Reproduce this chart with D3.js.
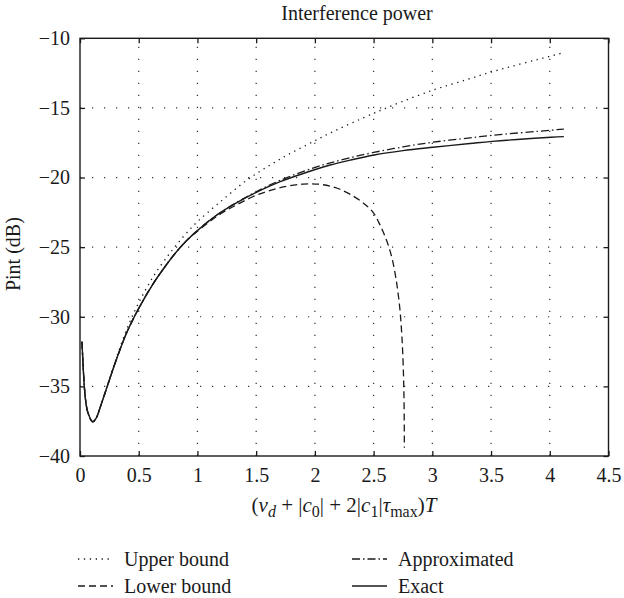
<!DOCTYPE html>
<html>
<head>
<meta charset="utf-8">
<script src="https://cdn.jsdelivr.net/npm/d3@7"></script>
<style>
	body { margin: 0; background: #fff; }
	svg text { font-family: "Liberation Serif", "DejaVu Serif", serif; fill: #1a1a1a; }
</style>
</head>
<body>
<div id="chart"></div>
<script>
const xTicks = [0, 0.5, 1, 1.5, 2, 2.5, 3, 3.5, 4, 4.5];
const yTicks = [-10, -15, -20, -25, -30, -35, -40];

const exactX = [0.017, 0.045, 0.068, 0.108, 0.14, 0.17, 0.2, 0.25, 0.3, 0.4, 0.5, 0.625, 0.75, 0.82, 0.9, 1.0, 1.18, 1.336, 1.506, 1.705, 1.99, 2.13, 2.3, 2.505, 2.75, 3.006, 3.32, 3.51, 4.01, 4.12];
const exactY = [-31.8, -35.8, -36.9, -37.55, -37.25, -36.55, -35.8, -34.55, -33.3, -31.1, -29.4, -27.6, -26.1, -25.35, -24.6, -23.8, -22.6, -21.8, -21.05, -20.3, -19.46, -19.1, -18.75, -18.38, -18.07, -17.83, -17.56, -17.4, -17.11, -17.06];

const upperX = [0.017, 0.045, 0.068, 0.108, 0.14, 0.17, 0.2, 0.25, 0.3, 0.4, 0.5, 0.625, 0.75, 0.82, 0.9, 1.0, 1.18, 1.42, 1.705, 1.99, 2.13, 2.5, 2.67, 3.01, 3.3, 3.51, 4.01, 4.12];
const upperY = [-31.8, -35.8, -36.9, -37.55, -37.25, -36.55, -35.8, -34.5, -33.2, -30.85, -29.0, -27.1, -25.6, -24.85, -24.05, -23.17, -21.85, -20.2, -18.67, -17.4, -16.8, -15.39, -14.79, -13.71, -12.95, -12.4, -11.27, -11.03];

const lowerX = [0.017, 0.045, 0.068, 0.108, 0.14, 0.17, 0.2, 0.25, 0.3, 0.4, 0.5, 0.625, 0.75, 0.82, 0.9, 1.0, 1.18, 1.336, 1.506, 1.705, 1.9, 2.045, 2.19, 2.33, 2.43, 2.5, 2.557, 2.614, 2.657, 2.693, 2.722, 2.74, 2.752, 2.759, 2.762];
const lowerY = [-31.8, -35.8, -36.9, -37.55, -37.25, -36.55, -35.8, -34.55, -33.3, -31.1, -29.4, -27.6, -26.1, -25.35, -24.6, -23.85, -22.7, -21.95, -21.25, -20.73, -20.47, -20.49, -20.77, -21.35, -21.95, -22.55, -23.45, -24.6, -25.8, -27.4, -29.3, -31.3, -33.5, -36.0, -39.4];

const approxX = [0.017, 0.045, 0.068, 0.108, 0.14, 0.17, 0.2, 0.25, 0.3, 0.4, 0.5, 0.625, 0.75, 0.82, 0.9, 1.0, 1.18, 1.336, 1.506, 1.705, 1.99, 2.13, 2.3, 2.5, 2.75, 3.0, 3.32, 3.51, 4.01, 4.12];
const approxY = [-31.8, -35.8, -36.9, -37.55, -37.25, -36.55, -35.8, -34.55, -33.3, -31.1, -29.4, -27.6, -26.1, -25.35, -24.6, -23.8, -22.6, -21.78, -21.0, -20.2, -19.3, -18.95, -18.58, -18.2, -17.8, -17.47, -17.15, -16.97, -16.6, -16.52];

const seriesNames = ['Upper bound', 'Lower bound', 'Approximated', 'Exact'];

const width = 624, height = 598;
const margin = {top: 38.3, right: 15.5, bottom: 142, left: 80};
const plotW = width - margin.left - margin.right;
const plotH = height - margin.top - margin.bottom;
const ink = '#1a1a1a';

const svg = d3.select('#chart').append('svg').attr('width', width).attr('height', height);
const g = svg.append('g').attr('transform', `translate(${margin.left},${margin.top})`);

const x = d3.scaleLinear().domain([0, 4.5]).range([0, plotW]);
const y = d3.scaleLinear().domain([-40, -10]).range([plotH, 0]);

// dotted grid
g.append('g').selectAll('line')
	.data(xTicks.slice(1, -1))
	.enter().append('line')
	.attr('x1', d => x(d)).attr('x2', d => x(d))
	.attr('y1', plotH).attr('y2', 0)
	.attr('stroke', '#333').attr('stroke-width', 1.2).attr('stroke-dasharray', '1.2,10.8');
g.append('g').selectAll('line')
	.data(yTicks.slice(1, -1))
	.enter().append('line')
	.attr('x1', 0).attr('x2', plotW)
	.attr('y1', d => y(d)).attr('y2', d => y(d))
	.attr('stroke', '#333').attr('stroke-width', 1.2).attr('stroke-dasharray', '1.2,10.8');

// axes with inward ticks
const fmt = d3.format('');
const styleAxis = sel => {
	sel.select('.domain').remove();
	sel.selectAll('line').attr('stroke', ink).attr('stroke-width', 1.3);
	sel.selectAll('text').style('font-size', '20px').attr('fill', ink);
};
g.append('g').attr('transform', `translate(0,${plotH})`)
	.call(d3.axisBottom(x).tickValues(xTicks).tickFormat(fmt).tickSize(-5).tickSizeOuter(0).tickPadding(12))
	.call(styleAxis);
g.append('g')
	.call(d3.axisLeft(y).tickValues(yTicks).tickFormat(fmt).tickSize(-5).tickSizeOuter(0).tickPadding(10))
	.call(styleAxis);
g.append('g')
	.call(d3.axisTop(x).tickValues(xTicks).tickFormat('').tickSize(-5).tickSizeOuter(0))
	.call(styleAxis);
g.append('g').attr('transform', `translate(${plotW},0)`)
	.call(d3.axisRight(y).tickValues(yTicks).tickFormat('').tickSize(-5).tickSizeOuter(0))
	.call(styleAxis);

g.append('rect')
	.attr('width', plotW).attr('height', plotH)
	.attr('fill', 'none').attr('stroke', ink).attr('stroke-width', 1.4);

// curves
const line = d3.line().x(d => x(d[0])).y(d => y(d[1])).curve(d3.curveCatmullRom.alpha(0.5));
const series = [
	{name: seriesNames[0], xs: upperX, ys: upperY, dash: '1.3,4.6', w: 1.3},
	{name: seriesNames[1], xs: lowerX, ys: lowerY, dash: '7,4', w: 1.3},
	{name: seriesNames[2], xs: approxX, ys: approxY, dash: '8,3,1.5,3', w: 1.3},
	{name: seriesNames[3], xs: exactX, ys: exactY, dash: null, w: 1.4}
];
g.selectAll('path.curve')
	.data(series)
	.enter().append('path')
	.attr('class', 'curve')
	.attr('d', s => line(s.xs.map((v, i) => [v, s.ys[i]])))
	.attr('fill', 'none')
	.attr('stroke', ink)
	.attr('stroke-width', s => s.w)
	.attr('stroke-dasharray', s => s.dash);

// title and axis labels
svg.append('text')
	.attr('x', 357).attr('y', 20)
	.attr('text-anchor', 'middle')
	.style('font-size', '20px')
	.text('Interference power');

svg.append('text')
	.attr('transform', `translate(20,${margin.top + plotH / 2 + 7}) rotate(-90)`)
	.attr('text-anchor', 'middle')
	.style('font-size', '20px')
	.text('Pint (dB)');

const xl = svg.append('text')
	.attr('x', 344).attr('y', 512)
	.attr('text-anchor', 'middle')
	.style('font-size', '21px');
const parts = [
	['(', null], ['ν', 'i'], ['d', 'is'], [' + |', null], ['c', 'i'], ['0', 's'], ['| + 2|', null],
	['c', 'i'], ['1', 's'], ['|', null], ['τ', 'i'], ['max', 's'], [')', null], ['T', 'i']
];
let shifted = false;
parts.forEach(p => {
	const t = xl.append('tspan').text(p[0]);
	const sub = p[1] && p[1].includes('s');
	if (p[1] && p[1].includes('i')) t.style('font-style', 'italic');
	if (sub) t.style('font-size', '16px');
	if (sub && !shifted) { t.attr('dy', 5); shifted = true; }
	else if (!sub && shifted) { t.attr('dy', -5); shifted = false; }
});

// legend
const legendPos = [[78, 559], [78, 586], [352, 559], [352, 586]];
const legend = svg.append('g').selectAll('g')
	.data(series)
	.enter().append('g')
	.attr('transform', (s, i) => `translate(${legendPos[i][0]},${legendPos[i][1]})`);
legend.append('line')
	.attr('x1', 0).attr('x2', 35).attr('y1', 0).attr('y2', 0)
	.attr('stroke', ink).attr('stroke-width', s => s.w)
	.attr('stroke-dasharray', s => s.dash);
legend.append('text')
	.attr('x', 46).attr('y', 7)
	.style('font-size', '20px')
	.text(s => s.name);
</script>
</body>
</html>
